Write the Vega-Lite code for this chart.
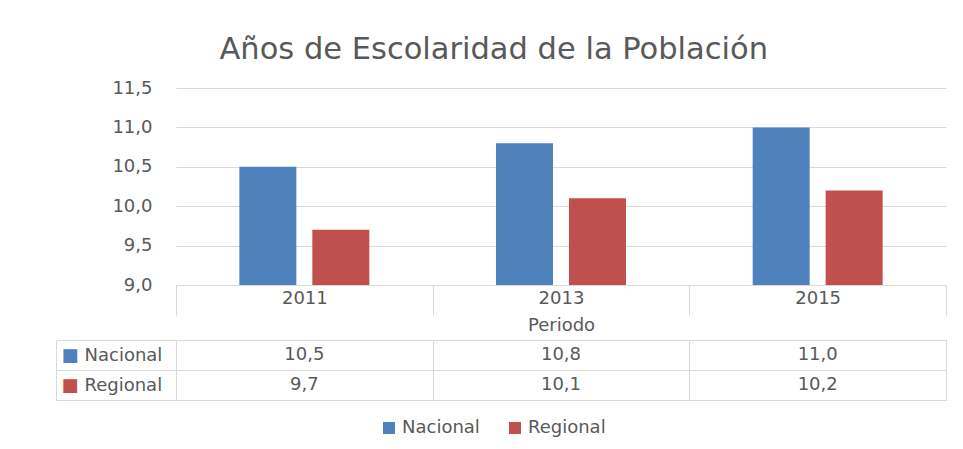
{
  "$schema": "https://vega.github.io/schema/vega-lite/v6.json",
  "padding": {"left": 55, "top": 34, "right": 5, "bottom": 5},
  "title": {"text": "Años de Escolaridad de la Población", "fontSize": 30.5, "font": "DejaVu Sans", "fontWeight": "normal", "color": "#595959", "anchor": "middle", "offset": 14, "dx": -7},
  "config": {
    "locale": {"number": {"decimal": ",", "thousands": ".", "grouping": [3], "currency": ["", " €"]}},
    "font": "DejaVu Sans",
    "view": {"stroke": null},
    "axis": {"labelFont": "DejaVu Sans", "labelFontSize": 18, "labelColor": "#595959", "titleFont": "DejaVu Sans", "titleFontWeight": "normal", "titleColor": "#595959", "titleFontSize": 18, "gridColor": "#d9d9d9", "domainColor": "#d9d9d9", "tickColor": "#d9d9d9"}
  },
  "datasets": {
    "d": [
      {"year": "2011", "series": "Nacional", "value": 10.5},
      {"year": "2011", "series": "Regional", "value": 9.7},
      {"year": "2013", "series": "Nacional", "value": 10.8},
      {"year": "2013", "series": "Regional", "value": 10.1},
      {"year": "2015", "series": "Nacional", "value": 11.0},
      {"year": "2015", "series": "Regional", "value": 10.2}
    ]
  },
  "spacing": -5,
  "vconcat": [
    {
      "width": 770,
      "height": 197,
      "data": {"name": "d"},
      "mark": {"type": "bar"},
      "encoding": {
        "x": {"field": "year", "type": "nominal", "scale": {"paddingInner": 0, "paddingOuter": 0},
              "axis": {"title": "Periodo", "labelAngle": 0, "ticks": true, "tickBand": "extent", "tickSize": 30, "labelPadding": -26, "titlePadding": 1, "domainColor": "#d9d9d9"}},
        "xOffset": {"field": "series", "type": "nominal", "scale": {"paddingInner": 0.219, "paddingOuter": 0.868}},
        "y": {"field": "value", "type": "quantitative", "scale": {"domain": [9, 11.5], "nice": false, "zero": false},
              "axis": {"values": [9, 9.5, 10, 10.5, 11, 11.5], "format": ".1f", "title": null, "domain": false, "ticks": false, "labelPadding": 24}},
        "y2": {"datum": 9},
        "color": {"field": "series", "type": "nominal", "scale": {"range": ["#4F81BD", "#C0504D"]},
                  "legend": {"orient": "none", "legendX": 204, "legendY": 331, "direction": "horizontal", "title": null, "symbolType": "square", "symbolSize": 144, "symbolStrokeWidth": 0, "labelFontSize": 18, "labelFont": "DejaVu Sans", "labelColor": "#595959", "columnPadding": 26}}
      }
    },
    {
      "width": 770,
      "height": 60,
      "data": {"name": "d"},
      "view": {"stroke": "#d9d9d9"},
      "layer": [
        {
          "mark": {"type": "text", "fontSize": 18, "color": "#595959", "font": "DejaVu Sans"},
          "encoding": {
            "x": {"field": "year", "type": "nominal", "scale": {"paddingInner": 0, "paddingOuter": 0},
                  "axis": {"title": null, "labels": false, "ticks": false, "domain": false, "grid": true, "tickBand": "extent"}},
            "y": {"field": "series", "type": "nominal", "scale": {"paddingInner": 0, "paddingOuter": 0},
                  "axis": {"title": null, "orient": "left", "domain": false, "grid": true, "tickBand": "extent", "ticks": true, "tickSize": 120, "labelAlign": "left", "labelPadding": -28, "labelBaseline": "middle"}},
            "text": {"field": "value", "type": "quantitative", "format": ".1f"}
          }
        },
        {
          "mark": {"type": "text", "opacity": 0},
          "encoding": {
            "y": {"field": "series", "type": "nominal", "scale": {"paddingInner": 0, "paddingOuter": 0},
                  "axis": {"title": null, "orient": "left", "offset": 120, "domain": true, "domainColor": "#d9d9d9", "ticks": false, "tickSize": 0, "grid": false, "labelExpr": "'■'", "labelAlign": "left", "labelPadding": -5, "labelFontSize": 18, "labelBaseline": "middle",
                           "labelColor": {"condition": {"test": "datum.value === 'Nacional'", "value": "#4F81BD"}, "value": "#C0504D"}}},
            "text": {"value": ""}
          }
        }
      ],
      "resolve": {"axis": {"y": "independent"}, "scale": {"y": "independent"}}
    }
  ]
}
